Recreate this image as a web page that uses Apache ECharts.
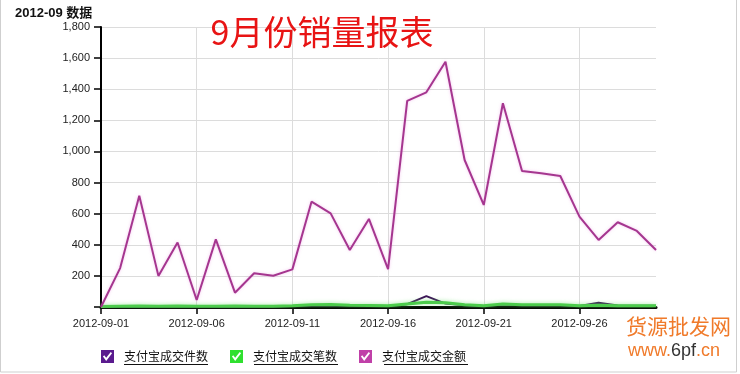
<!DOCTYPE html>
<html>
<head>
<meta charset="utf-8">
<script src="https://cdn.jsdelivr.net/npm/echarts@6/dist/echarts.min.js"></script>
<style>
html,body{margin:0;padding:0;background:#fff;}
#chart{width:740px;height:374px;}
</style>
</head>
<body>
<div id="chart"></div>
<script>
var dates = ['2012-09-01','2012-09-02','2012-09-03','2012-09-04','2012-09-05','2012-09-06','2012-09-07','2012-09-08','2012-09-09','2012-09-10',
             '2012-09-11','2012-09-12','2012-09-13','2012-09-14','2012-09-15','2012-09-16','2012-09-17','2012-09-18','2012-09-19','2012-09-20',
             '2012-09-21','2012-09-22','2012-09-23','2012-09-24','2012-09-25','2012-09-26','2012-09-27','2012-09-28','2012-09-29','2012-09-30'];
var seriesNames = ['支付宝成交件数','支付宝成交笔数','支付宝成交金额'];
var itemCount = [2,3,5,4,5,4,4,5,4,4, 6,10,12,10,8,6,18,70,22,12, 6,16,12,12,12,6,28,10,8,8];
var tradeCount = [3,5,6,5,6,5,5,6,5,5, 8,14,16,12,10,8,20,30,28,14, 8,20,15,15,14,8,12,8,8,8];
var amount = [0,250,715,200,415,45,435,92,217,201, 242,677,602,366,566,243,1325,1380,1577,945, 656,1310,874,860,842,581,431,545,489,366];
var yMax = 1800, yInterval = 200;

var chart = echarts.init(document.getElementById('chart'));
var axisFont = 'Arial, "Liberation Sans", sans-serif';
var cjkFont = '"Noto Sans CJK SC", sans-serif';
var checkIcon = 'path://M0,0L20,0L20,20L0,20Z M3,10L8,17L17,5L15,3L8,12L5,8Z';

chart.setOption({
  animation: false,
  backgroundColor: '#fff',
  title: [
    {text: '2012-09 数据', left: 10, top: 2,
     textStyle: {fontSize: 13, fontWeight: 'bold', color: '#111', fontFamily: 'Arial, "Liberation Sans", "Noto Sans CJK SC", sans-serif'}},
    {text: '9月份销量报表', left: 317, top: 10, textAlign: 'center',
     textStyle: {fontSize: 34, fontWeight: 'normal', color: '#e81414', fontFamily: cjkFont}}
  ],
  grid: {left: 101, right: 84, top: 27, bottom: 67, containLabel: false},
  legend: {
    left: 101, top: 350, padding: 0, itemWidth: 13, itemHeight: 13, itemGap: 22,
    data: [
      {name: seriesNames[0], icon: checkIcon},
      {name: seriesNames[1], icon: checkIcon},
      {name: seriesNames[2], icon: checkIcon}
    ],
    textStyle: {fontSize: 12, color: '#111', fontFamily: cjkFont, padding: [0,0,0,5]}
  },
  xAxis: {
    type: 'category', data: dates, boundaryGap: false,
    axisLine: {lineStyle: {color: '#000', width: 3}},
    axisTick: {show: true, interval: 4, length: 7, lineStyle: {color: '#000', width: 1.5}},
    axisLabel: {interval: 4, margin: 11, fontSize: 11, color: '#222', fontFamily: axisFont},
    splitLine: {show: true, interval: 4, lineStyle: {color: '#dcdcdc', width: 1}}
  },
  yAxis: {
    type: 'value', min: 0, max: yMax, interval: yInterval,
    axisLine: {show: true, lineStyle: {color: '#000', width: 2}},
    axisTick: {show: true, length: 7, lineStyle: {color: '#000', width: 1.5}},
    axisLabel: {margin: 11, fontSize: 11, color: '#222', fontFamily: axisFont,
      formatter: function (v) { return v === 0 ? '' : v.toLocaleString('en-US'); }},
    splitLine: {show: true, lineStyle: {color: '#dcdcdc', width: 1}}
  },
  series: [
    {name: seriesNames[0], type: 'line', data: itemCount, showSymbol: false, symbol: 'none',
     itemStyle: {color: '#5a1a8e'},
     lineStyle: {color: '#3d1458', width: 2}},
    {name: seriesNames[1], type: 'line', data: tradeCount, showSymbol: false, symbol: 'none',
     itemStyle: {color: '#2fe02f'},
     lineStyle: {color: '#4ccc4c', width: 3, shadowColor: 'rgba(90,220,90,0.6)', shadowBlur: 4}},
    {name: seriesNames[2], type: 'line', data: amount, showSymbol: false, symbol: 'none',
     itemStyle: {color: '#c040a8'},
     lineStyle: {color: '#a5368f', width: 2, shadowColor: 'rgba(235,140,225,0.5)', shadowBlur: 3}}
  ],
  graphic: [
    {type: 'rect', silent: true, shape: {x: 0.5, y: -2, width: 736, height: 374},
     style: {fill: 'none', stroke: '#cfcfcf', lineWidth: 1}},
    {type: 'line', silent: true, shape: {x1: 124, y1: 364.5, x2: 208, y2: 364.5}, style: {stroke: '#111', lineWidth: 1}},
    {type: 'line', silent: true, shape: {x1: 254, y1: 364.5, x2: 338, y2: 364.5}, style: {stroke: '#111', lineWidth: 1}},
    {type: 'line', silent: true, shape: {x1: 384, y1: 364.5, x2: 468, y2: 364.5}, style: {stroke: '#111', lineWidth: 1}},
    {type: 'text', silent: true, left: 626, top: 316,
     style: {text: '货源批发网', fontSize: 21, fill: '#f07a2a', fontFamily: cjkFont}},
    {type: 'text', silent: true, left: 628, top: 342,
     style: {text: '{o|www.}{d|6pf}{o|.cn}', fontSize: 18, fontFamily: cjkFont,
       rich: {o: {fill: '#f07a2a', fontSize: 18}, d: {fill: '#333', fontSize: 18}}}}
  ]
});
</script>
</body>
</html>
